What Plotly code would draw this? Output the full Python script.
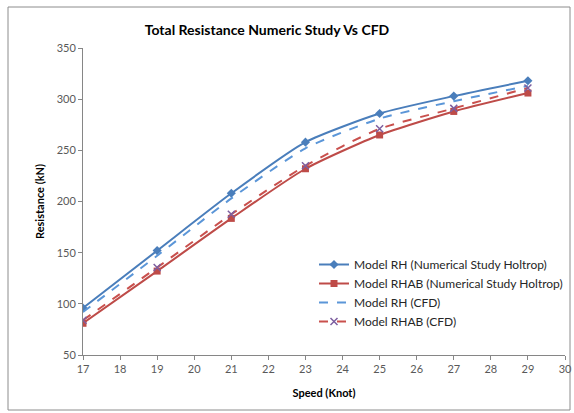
import plotly.graph_objects as go

# ── Data ───────────────────────────────────────────────────────────────────
speed = [17, 19, 21, 23, 25, 27, 29]
rh_holtrop = [96, 152, 208, 258, 286, 303, 318]
rhab_holtrop = [81, 132, 183.5, 232, 265, 288, 306]
rh_cfd = [92, 147, 203, 252, 281, 298, 313]
rhab_cfd = [84, 135.5, 187.5, 235, 271, 291, 311]

x_ticks = list(range(17, 31))
y_ticks = [50, 100, 150, 200, 250, 300, 350]

FONT = "Lato, 'Open Sans', sans-serif"
BLUE = "#4A7EBB"
RED = "#BE4B48"
BLUE_DASH = "#5B96D8"
RED_DASH = "#C9504D"
PURPLE = "#7D5FA0"
SMOOTH = 0.6

# full window figure; body margin is removed in write_html below
W, H = 574, 413
L, R, T, B = 83, 9, 48, 58
plot_w = W - L - R
plot_h = H - T - B

fig = go.Figure()

fig.add_trace(go.Scatter(
    x=speed, y=rh_holtrop, name="Model RH (Numerical Study Holtrop)",
    mode="lines+markers",
    line=dict(color=BLUE, width=2, shape="spline", smoothing=SMOOTH),
    marker=dict(symbol="diamond", size=7, color=BLUE),
))
fig.add_trace(go.Scatter(
    x=speed, y=rhab_holtrop, name="Model RHAB (Numerical Study Holtrop)",
    mode="lines+markers",
    line=dict(color=RED, width=2, shape="spline", smoothing=SMOOTH),
    marker=dict(symbol="square", size=7, color=RED),
))
fig.add_trace(go.Scatter(
    x=speed, y=rh_cfd, name="Model RH (CFD)",
    mode="lines",
    line=dict(color=BLUE_DASH, width=2, dash="dash", shape="spline", smoothing=SMOOTH),
))
fig.add_trace(go.Scatter(
    x=speed, y=rhab_cfd, name="Model RHAB (CFD)",
    mode="lines+markers",
    line=dict(color=RED_DASH, width=2, dash="dash", shape="spline", smoothing=SMOOTH),
    marker=dict(symbol="x-thin", size=7, color=PURPLE, line=dict(color=PURPLE, width=1.5)),
))

fig.update_layout(
    width=W, height=H,
    paper_bgcolor="white", plot_bgcolor="white",
    margin=dict(l=L, r=R, t=T, b=B, autoexpand=False),
    font=dict(family=FONT, size=11, color="#595959"),
    title=dict(
        text="<b>Total Resistance Numeric Study Vs CFD</b>",
        font=dict(family=FONT, size=14, color="#000000"),
        x=267 / W, xanchor="center", y=1 - 30 / H, yanchor="middle",
    ),
    xaxis=dict(
        range=[17, 30], tickvals=x_ticks, showgrid=False, zeroline=False,
        showline=True, linecolor="#868686", linewidth=1,
        ticks="outside", ticklen=4, tickcolor="#868686",
        tickfont=dict(size=11, color="#595959"), ticklabeloverflow="allow",
        title=dict(text="<b>Speed (Knot)</b>", font=dict(size=11, color="#000000"), standoff=15),
    ),
    yaxis=dict(
        range=[50, 350], tickvals=y_ticks, showgrid=False, zeroline=False,
        showline=True, linecolor="#868686", linewidth=1,
        ticks="outside", ticklen=4, tickcolor="#868686",
        tickfont=dict(size=11, color="#595959"),
        title=dict(text="<b>Resistance (kN)</b>", font=dict(size=11, color="#000000"), standoff=9),
    ),
    legend=dict(
        x=(314 - L) / plot_w, y=(H - B - 250) / plot_h, xanchor="left", yanchor="top",
        bgcolor="rgba(0,0,0,0)", font=dict(size=12, color="#262626"),
        tracegroupgap=0, itemwidth=30,
    ),
    shapes=[dict(
        type="rect", xref="paper", yref="paper",
        x0=(8 - L) / plot_w, x1=(570 - L) / plot_w,
        y0=(H - B - 410) / plot_h, y1=(H - B - 7) / plot_h,
        line=dict(color="#8C8C8C", width=1), fillcolor="rgba(0,0,0,0)", layer="below",
    )],
)

fig.write_html(
    "out.html",
    config={"displayModeBar": False},
    post_script="document.body.style.margin='0';document.body.style.overflow='hidden';",
)
